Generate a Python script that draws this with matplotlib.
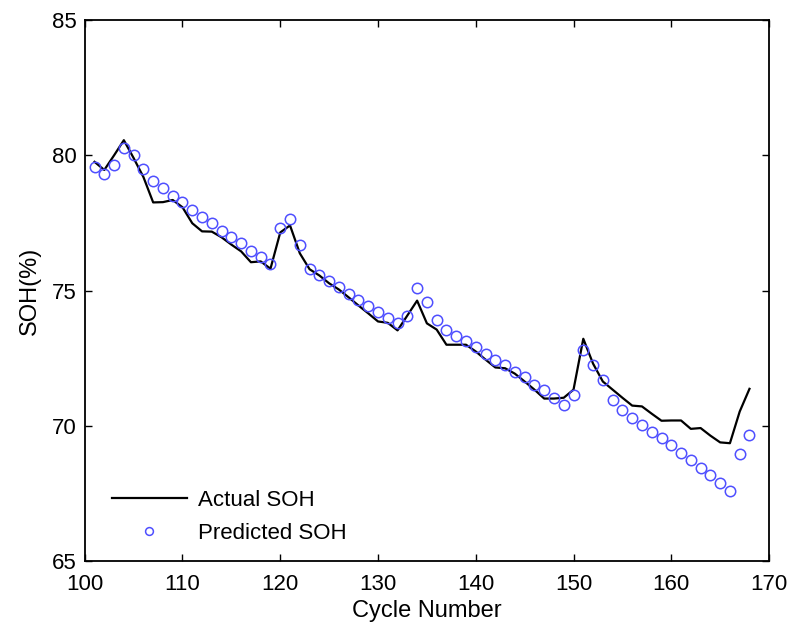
import matplotlib
matplotlib.use('Agg')
import matplotlib.pyplot as plt

plt.rcParams['font.family'] = ['Liberation Sans', 'DejaVu Sans']

# cycle numbers
cycles = list(range(101, 169))

# actual SOH (%)
actual = [79.76, 79.46, 80.0, 80.56, 79.9, 79.2, 78.26, 78.27, 78.35, 78.08,
          77.49, 77.19, 77.18, 76.97, 76.7, 76.45, 76.05, 76.08, 75.81, 77.15,
          77.41, 76.38, 75.79, 75.56, 75.27, 75.04, 74.75, 74.45, 74.16, 73.86,
          73.81, 73.53, 74.08, 74.63, 73.79, 73.56, 73.0, 73.0, 73.0, 72.75,
          72.45, 72.16, 72.13, 71.93, 71.64, 71.34, 71.01, 71.01, 71.04, 71.34,
          73.22, 72.3, 71.64, 71.34, 71.04, 70.75, 70.72, 70.45, 70.19, 70.2,
          70.2, 69.89, 69.92, 69.64, 69.39, 69.36, 70.53, 71.37]

# predicted SOH (%)
predicted = [79.56, 79.3, 79.64, 80.26, 80.0, 79.49, 79.04, 78.78, 78.5, 78.26,
             77.98, 77.71, 77.49, 77.22, 76.97, 76.75, 76.48, 76.26, 76.0, 77.3,
             77.64, 76.67, 75.79, 75.56, 75.34, 75.12, 74.87, 74.66, 74.42, 74.2,
             73.98, 73.79, 74.05, 75.1, 74.57, 73.9, 73.56, 73.34, 73.12, 72.9,
             72.67, 72.45, 72.26, 72.0, 71.79, 71.52, 71.31, 71.04, 70.79, 71.16,
             72.82, 72.26, 71.71, 70.97, 70.57, 70.3, 70.05, 69.79, 69.56, 69.3,
             69.01, 68.75, 68.45, 68.19, 67.9, 67.61, 68.97, 69.68]

fig = plt.figure(figsize=(7.92, 6.27), dpi=100)
ax = fig.add_axes([0.107, 0.105, 0.864, 0.863])

ax.plot(cycles, actual, color='black', lw=1.6, label='Actual SOH')
ax.plot(cycles, predicted, 'o', mfc='none', mec='#4f4fff', ms=7.5, mew=1.1,
        label='Predicted SOH')

ax.set_xlim(100, 170)
ax.set_ylim(65, 85)
ax.set_xticks([100, 110, 120, 130, 140, 150, 160, 170])
ax.set_yticks([65, 70, 75, 80, 85])
ax.tick_params(direction='in', top=True, right=True, labelsize=16, length=5,
               width=1)
ax.tick_params(axis='x', pad=9)
ax.tick_params(axis='y', pad=6)
for s in ax.spines.values():
    s.set_linewidth(1.3)

ax.set_xlabel('Cycle Number', fontsize=17, labelpad=4)
ax.set_ylabel('SOH(%)', fontsize=17, labelpad=8)

ax.legend(loc='lower left', frameon=False, fontsize=16, handlelength=3.4,
          handletextpad=0.5, labelspacing=0.55, markerscale=0.75,
          bbox_to_anchor=(0.01, -0.005))

fig.savefig('out.png', dpi=100)
